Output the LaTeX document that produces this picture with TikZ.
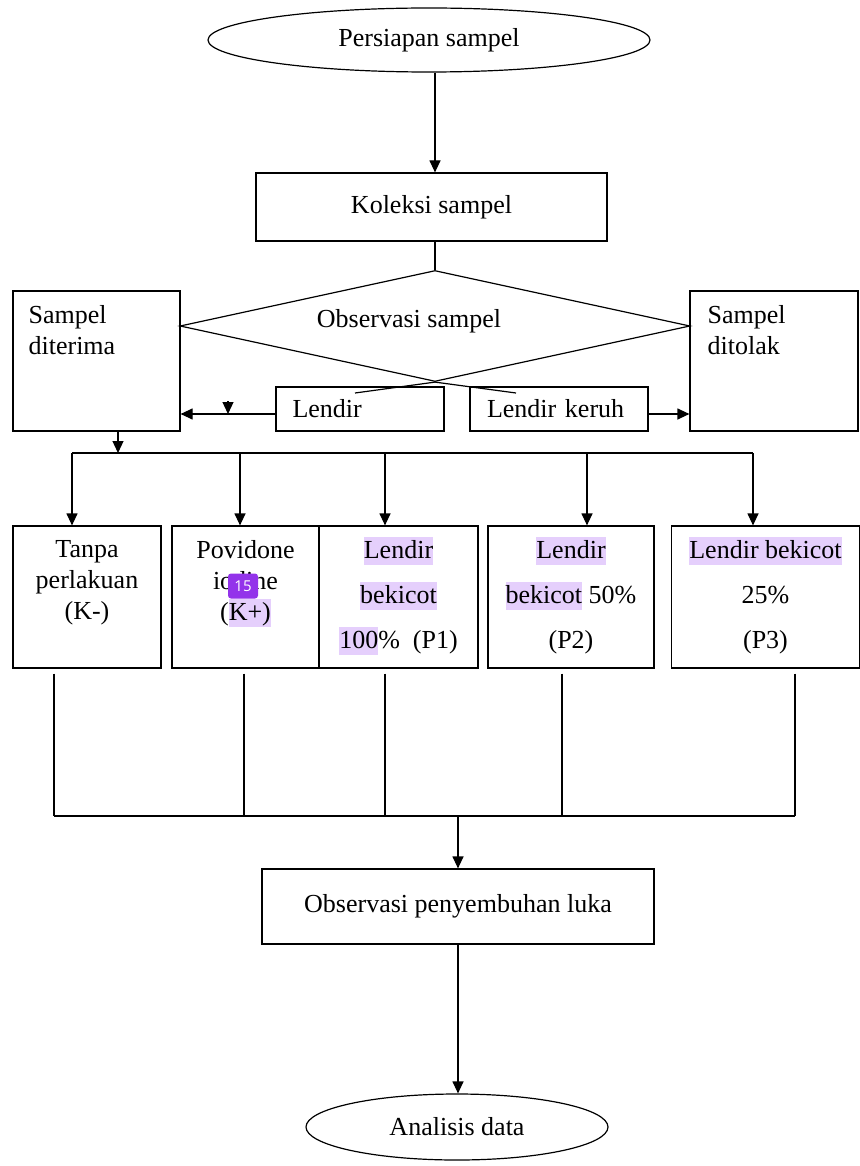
\documentclass[tikz,border=0pt]{standalone}
\usepackage{fontspec}
\setmainfont{Liberation Serif}
\newfontfamily\badgefont{Open Sans}
\usetikzlibrary{
  arrows.meta,
  positioning,
  shapes.geometric,
  calc
}
\definecolor{hlpurple}{RGB}{229,207,252}
\definecolor{badgepurple}{RGB}{147,51,234}
\newcommand{\hl}[1]{{\setlength{\fboxsep}{0pt}\colorbox{hlpurple}{\rule[-6pt]{0pt}{28pt}#1}}}
\tikzset{
  box/.style={draw,line width=1.2pt,rectangle,inner sep=0pt},
  term/.style={draw,line width=1.2pt,ellipse,inner sep=0pt},
  lbl/.style={inner sep=0pt,font=\fontsize{26}{31}\selectfont},
  lblwide/.style={inner sep=0pt,font=\fontsize{26}{45}\selectfont},
  arr/.style={line width=1.2pt,-{Triangle[length=12pt,width=11pt]}},
  wire/.style={line width=1.2pt}
}

\begin{document}
\begin{tikzpicture}[x=1pt,y=-1pt,font=\fontsize{26}{31}\selectfont]
  \useasboundingbox (0,0) rectangle (859,1166);

  \node[term,minimum width=442,minimum height=64] (prep) at (429,40) {Persiapan sampel};
  \node[box,minimum width=351,minimum height=68] (kol) at (431.5,207) {Koleksi sampel};
  \node[draw,diamond,line width=1.2pt,inner sep=0pt,minimum width=510,minimum height=111] (obsv) at (435,326) {};
  \node[lbl] (obsv-t) at (409,321) {Observasi sampel};

  \node[box,minimum width=167,minimum height=140] (acc) at (96.5,361) {};
  \node[lbl,anchor=north west,align=left] (acc-t) at ([shift={(16pt,-15pt)}]acc.north west) {Sampel\\diterima};
  \node[box,minimum width=168,minimum height=140] (rej) at (774,361) {};
  \node[lbl,anchor=north west,align=left] (rej-t) at ([shift={(18pt,-15pt)}]rej.north west) {Sampel\\ditolak};

  \node[box,minimum height=44,text width=135,inner xsep=16.5,align=left] (lnd) at (360,409) {Lendir};
  \node[box,minimum height=44,text width=144,inner xsep=17,align=left] (ker) at (559,409) {Lendir keruh};

  \draw[arr] (obsv.north |- prep.south) -- (obsv.north |- kol.north);
  \draw[wire] (kol.south -| obsv.north) -- (obsv.north);
  \coordinate (lnd-in) at (355,393);
  \coordinate (ker-in) at (516,393);
  \draw[wire] (lnd-in) -- (obsv.south) -- (ker-in);
  \draw[arr] ([yshift=-5pt]lnd.west) -- ([yshift=-5pt]lnd.west -| acc.east);
  \draw[arr] ([yshift=-5pt]ker.east) -- ([yshift=-5pt]ker.east -| rej.west);
  \coordinate (tip) at (228,401);
  \draw[arr] (tip) -- (228,414);

  \coordinate (bus) at (118,453);
  \coordinate (busL) at (72,453);
  \coordinate (busR) at (753,453);
  \draw[arr] (acc.south -| bus) -- (bus);
  \draw[wire] (busL) -- (busR);

  \node[box,minimum width=148,minimum height=142] (kmin) at (87,597) {};
  \node[box,minimum width=147,minimum height=142] (kpls) at (245.5,597) {};
  \node[box,minimum width=159,minimum height=142] (pa) at (398.5,597) {};
  \node[box,minimum width=166,minimum height=142] (pb) at (571,597) {};
  \node[box,minimum width=188,minimum height=142] (pc) at (765.5,597) {};

  \node[lbl,anchor=north,align=center] (kmin-t) at ([yshift=-15pt]kmin.north) {Tanpa\\perlakuan\\(K-)};
  \node[lbl,anchor=north,align=center] (kpls-t) at ([yshift=-15pt]kpls.north) {Povidone\\iodine\\(\hl{K+)}};
  \node[lblwide,anchor=north,align=center] (pa-t) at ([yshift=-11pt]pa.north) {\hl{Lendir}\\\hl{bekicot}\\\hl{100}\%\ \ (P1)};
  \node[lblwide,anchor=north,align=center] (pb-t) at ([yshift=-11pt]pb.north) {\hl{Lendir}\\\hl{bekicot} 50\%\\(P2)};
  \node[lblwide,anchor=north,align=center] (pc-t) at ([yshift=-11pt]pc.north) {\hl{Lendir bekicot}\\25\%\\(P3)};
  \node[fill=badgepurple,rounded corners=3pt,minimum width=30,minimum height=25,inner sep=0pt,text=white,font=\badgefont\fontsize{15}{15}\selectfont] (badge) at (243,586) {15};

  \foreach \x/\b in {72/kmin,240/kpls,385/pa,587/pb,753/pc}{
    \coordinate (t\b) at (\x,453);
    \draw[arr] (t\b) -- (t\b |- \b.north);
  }

  \foreach \x/\b in {54/kmin,244/kpls,385/pa,562/pb,795/pc}{
    \coordinate (d\b) at (\x,816);
    \draw[wire] (\b.south -| d\b) ++(0,5) -- (d\b);
  }
  \draw[wire] (dkmin) -- (dpc);

  \node[box,minimum width=392,minimum height=75] (heal) at (458,906.5) {Observasi penyembuhan luka};
  \node[term,minimum width=302,minimum height=66] (ana) at (457,1127) {Analisis data};
  \draw[arr] (heal.north |- dkmin) -- (heal.north);
  \draw[arr] (heal.south) -- (heal.south |- ana.north);
\end{tikzpicture}
\end{document}
